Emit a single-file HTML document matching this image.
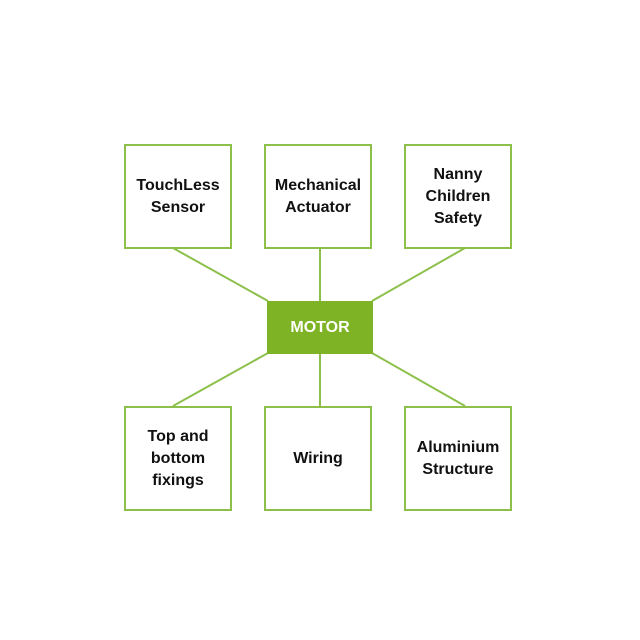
<!DOCTYPE html>
<html><head><style>
body{margin:0;background:#fff;}
.b{position:absolute;box-sizing:border-box;border:2px solid #8cc04b;background:#fff;display:flex;align-items:center;justify-content:center;text-align:center;font-family:"Liberation Sans",sans-serif;font-weight:bold;font-size:16px;line-height:22px;color:#111;}
</style></head><body>
<div style="position:relative;width:640px;height:640px;">
<svg width="640" height="640" style="position:absolute;left:0;top:0">
<g stroke="#8cc04b" stroke-width="2">
<line x1="173" y1="248" x2="268" y2="301"/>
<line x1="320" y1="248" x2="320" y2="301"/>
<line x1="465" y1="248" x2="372" y2="301"/>
<line x1="268" y1="353" x2="173" y2="406"/>
<line x1="320" y1="353" x2="320" y2="406"/>
<line x1="372" y1="353" x2="465" y2="406"/>
</g></svg>
<div class="b" style="left:124px;top:144px;width:108px;height:105px">TouchLess<br>Sensor</div>
<div class="b" style="left:264px;top:144px;width:108px;height:105px">Mechanical<br>Actuator</div>
<div class="b" style="left:404px;top:144px;width:108px;height:105px">Nanny<br>Children<br>Safety</div>
<div class="b" style="left:124px;top:406px;width:108px;height:105px">Top and<br>bottom<br>fixings</div>
<div class="b" style="left:264px;top:406px;width:108px;height:105px">Wiring</div>
<div class="b" style="left:404px;top:406px;width:108px;height:105px">Aluminium<br>Structure</div>
<div class="b" style="left:267px;top:301px;width:106px;height:53px;background:#7db324;border-color:#7db324;color:#fff;">MOTOR</div>
</div>
</body></html>
